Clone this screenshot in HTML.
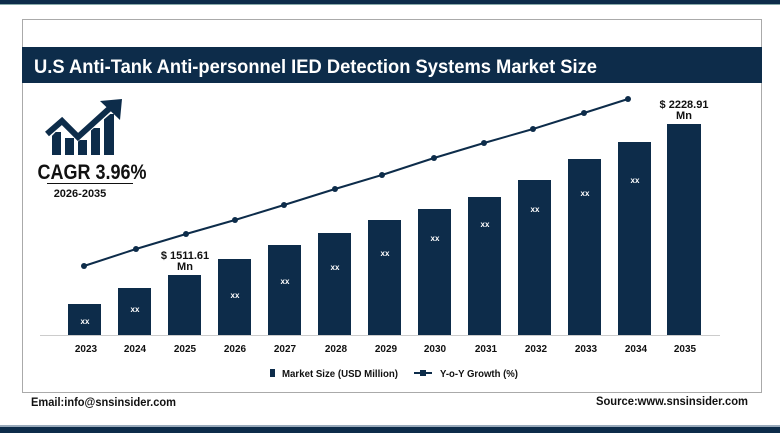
<!DOCTYPE html><html><head><style>
body{margin:0;width:780px;height:433px;background:#fff;overflow:hidden;font-family:"Liberation Sans",sans-serif}
</style></head><body>
<svg width="780" height="433" xmlns="http://www.w3.org/2000/svg" font-family="Liberation Sans, sans-serif">
<rect x="0" y="0" width="780" height="4" fill="#0d2c4a"/>
<rect x="0" y="4" width="780" height="1" fill="#8aa"/>
<rect x="22.5" y="19.5" width="739" height="373" fill="#fff" stroke="#aaa"/>
<rect x="22" y="47" width="740" height="36" fill="#0d2c4a"/>
<text x="34" y="73" font-size="19" font-weight="bold" fill="#fff" textLength="563" lengthAdjust="spacingAndGlyphs">U.S Anti-Tank Anti-personnel IED Detection Systems Market Size</text>
<rect x="0" y="427" width="780" height="6" fill="#0d2c4a"/>
<rect x="0" y="425" width="780" height="2" fill="#9ab"/>
<!-- icon -->
<g fill="#0d2c4a">
<rect x="52" y="132" width="9" height="23"/><rect x="65" y="138" width="9" height="17"/><rect x="78" y="140" width="9" height="15"/><rect x="91" y="128" width="9" height="27"/><rect x="104" y="114" width="10" height="41"/>
<polyline points="44,137 62,118 78,135 112,106" fill="none" stroke="#fff" stroke-width="10"/>
<polyline points="47,134 62,121 78,137 110,108" fill="none" stroke="#0d2c4a" stroke-width="6"/>
<polygon points="100,101 122,99 120,120"/>
</g>
<text x="92" y="179" font-size="21" font-weight="bold" fill="#111" text-anchor="middle" textLength="109" lengthAdjust="spacingAndGlyphs">CAGR 3.96%</text>
<rect x="47" y="183" width="86" height="1" fill="#111"/>
<text x="80" y="197" font-size="11" font-weight="bold" fill="#111" text-anchor="middle">2026-2035</text>
<line x1="40" y1="335.5" x2="720" y2="335.5" stroke="#ccc"/>
<g fill="#0d2c4a">
<rect x="68" y="304" width="33" height="31"/><rect x="118" y="288" width="33" height="47"/><rect x="168" y="275" width="33" height="60"/><rect x="218" y="259" width="33" height="76"/><rect x="268" y="245" width="33" height="90"/><rect x="318" y="233" width="33" height="102"/><rect x="368" y="220" width="33" height="115"/><rect x="418" y="209" width="33" height="126"/><rect x="468" y="197" width="33" height="138"/><rect x="518" y="180" width="33" height="155"/><rect x="568" y="159" width="33" height="176"/><rect x="618" y="142" width="33" height="193"/><rect x="667" y="124" width="34" height="211"/>
</g>
<g fill="#fff" font-size="8" font-weight="bold" text-anchor="middle">
<text x="85" y="324">xx</text><text x="135" y="312">xx</text><text x="235" y="298">xx</text><text x="285" y="284">xx</text><text x="335" y="270">xx</text><text x="385" y="256">xx</text><text x="435" y="241">xx</text><text x="485" y="227">xx</text><text x="535" y="212">xx</text><text x="585" y="196">xx</text><text x="635" y="183">xx</text>
</g>
<polyline points="84,266 136,249 186,234 235,220 284,205 335,189 382,175 434,158 484,143 533,129 584,113 628,99" fill="none" stroke="#0d2c4a" stroke-width="2"/>
<g fill="#0d2c4a"><circle cx="84" cy="266" r="3"/><circle cx="136" cy="249" r="3"/><circle cx="186" cy="234" r="3"/><circle cx="235" cy="220" r="3"/><circle cx="284" cy="205" r="3"/><circle cx="335" cy="189" r="3"/><circle cx="382" cy="175" r="3"/><circle cx="434" cy="158" r="3"/><circle cx="484" cy="143" r="3"/><circle cx="533" cy="129" r="3"/><circle cx="584" cy="113" r="3"/><circle cx="628" cy="99" r="3"/></g>
<g font-size="11" font-weight="bold" fill="#111" text-anchor="middle">
<text x="185" y="259">$ 1511.61</text><text x="185" y="270">Mn</text>
<text x="684" y="108">$ 2228.91</text><text x="684" y="119">Mn</text>
</g>
<g font-size="10" font-weight="bold" fill="#111" text-anchor="middle">
<text x="86" y="352">2023</text><text x="135" y="352">2024</text><text x="185" y="352">2025</text><text x="235" y="352">2026</text><text x="285" y="352">2027</text><text x="336" y="352">2028</text><text x="386" y="352">2029</text><text x="435" y="352">2030</text><text x="486" y="352">2031</text><text x="536" y="352">2032</text><text x="586" y="352">2033</text><text x="636" y="352">2034</text><text x="685" y="352">2035</text>
</g>
<rect x="270" y="369" width="5" height="8" fill="#0d2c4a"/>
<text x="282" y="377" font-size="10" font-weight="bold" fill="#111" textLength="116" lengthAdjust="spacingAndGlyphs">Market Size (USD Million)</text>
<line x1="414" y1="373" x2="432" y2="373" stroke="#0d2c4a" stroke-width="2"/><rect x="420" y="370" width="6" height="6" fill="#0d2c4a"/>
<text x="440" y="377" font-size="10" font-weight="bold" fill="#111" textLength="78" lengthAdjust="spacingAndGlyphs">Y-o-Y Growth (%)</text>
<text x="31" y="406" font-size="12" font-weight="bold" fill="#111" textLength="145" lengthAdjust="spacingAndGlyphs">Email:info@snsinsider.com</text>
<text x="596" y="405" font-size="12" font-weight="bold" fill="#111" textLength="152" lengthAdjust="spacingAndGlyphs">Source:www.snsinsider.com</text>
</svg>
</body></html>
